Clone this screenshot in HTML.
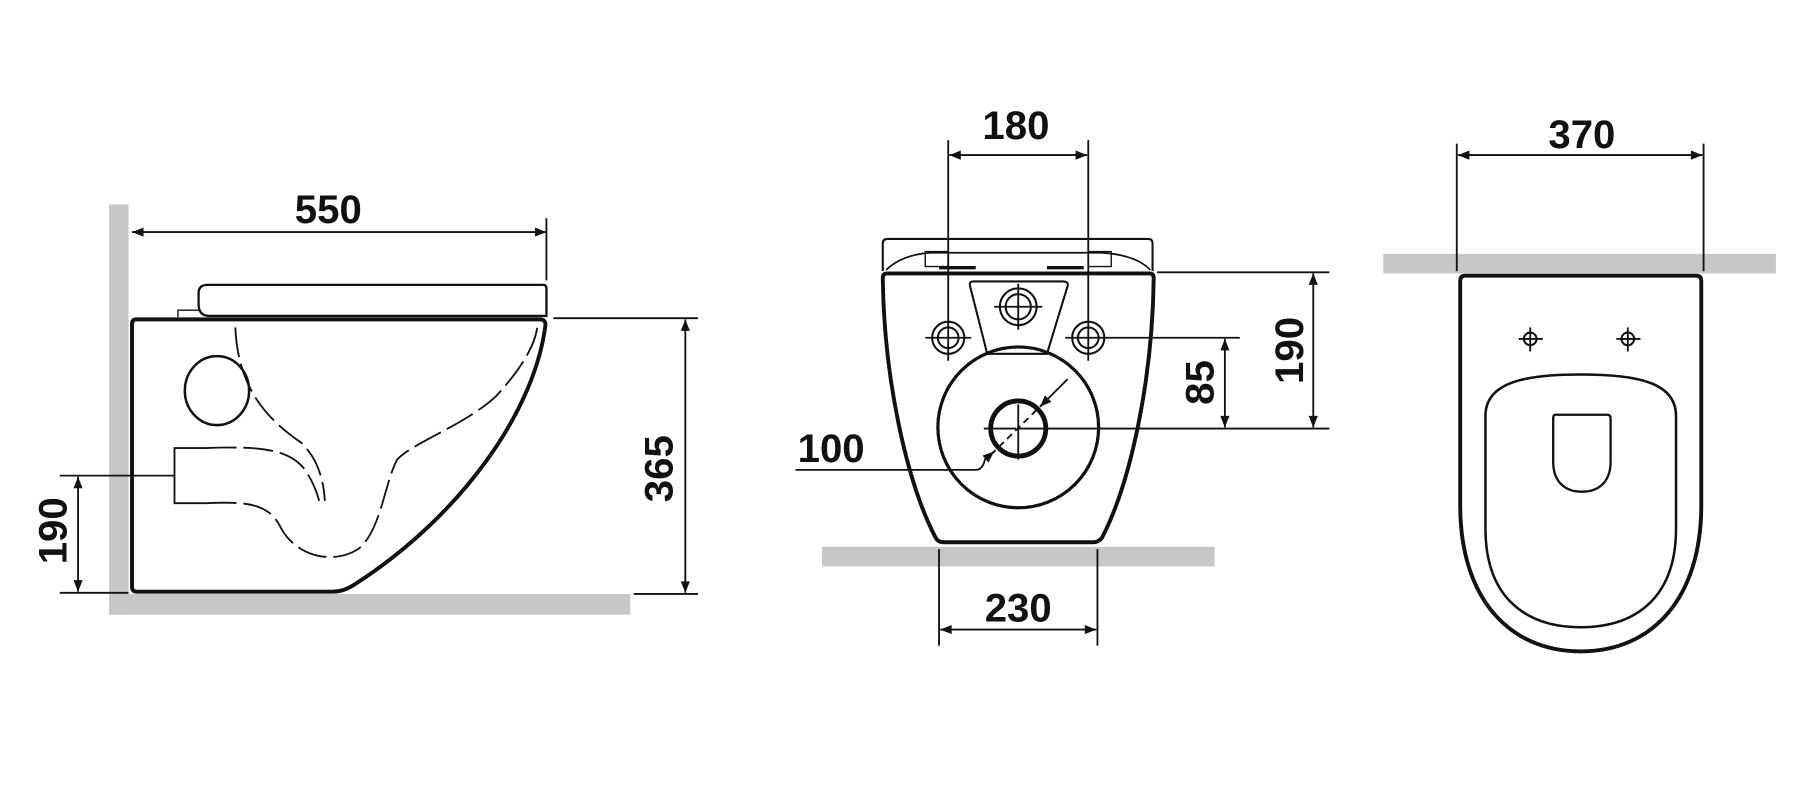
<!DOCTYPE html>
<html><head><meta charset="utf-8"><style>
html,body{margin:0;padding:0;background:#fff;}
svg{display:block;}
text{font-family:"Liberation Sans",Arial,sans-serif;font-weight:bold;font-size:35px;fill:#111;}
</style></head><body>
<svg width="1800" height="795" viewBox="0 0 1568 692" preserveAspectRatio="none" xmlns="http://www.w3.org/2000/svg">
<defs>
<marker id="a" viewBox="0 0 10 10" refX="10" refY="5" markerWidth="14" markerHeight="10" markerUnits="userSpaceOnUse" orient="auto-start-reverse"><path d="M0,1 L10,5 L0,9 Z" fill="#111"/></marker>
</defs>
<g fill="#c8c6c6">
<rect x="95" y="178" width="17" height="357"/>
<rect x="95" y="517" width="454" height="18"/>
<rect x="716" y="476" width="342" height="17"/>
<rect x="1205" y="221" width="342" height="17"/>
</g>
<g fill="none" stroke="#111" stroke-width="1.6">
<!-- LEFT VIEW -->
<line x1="115" y1="202" x2="476" y2="202" marker-start="url(#a)" marker-end="url(#a)"/>
<line x1="476" y1="190" x2="476" y2="244"/>
<line x1="482" y1="277" x2="608" y2="277"/>
<line x1="552" y1="517" x2="608" y2="517"/>
<line x1="597" y1="278" x2="597" y2="516" marker-start="url(#a)" marker-end="url(#a)"/>
<line x1="52" y1="414" x2="152" y2="414"/>
<line x1="52" y1="516" x2="112" y2="516"/>
<line x1="68" y1="415" x2="68" y2="515" marker-start="url(#a)" marker-end="url(#a)"/>
<path d="M180,390 H152 V438 H180"/>
<path d="M155,276 V270 H175" stroke-width="1.2"/>
<path d="M181,248 H473 Q476,248 476,251 V275 H183 Q173,275 173,265 V255 Q173,248 181,248 Z" stroke-width="2"/>
<path d="M119,278 H470 Q476,278 475,284 C465,360 400,450 310,508 Q300,515 290,515 H119 Q115,515 115,511 V282 Q115,278 119,278 Z" stroke-width="3.4"/>
<ellipse cx="189" cy="340" rx="28" ry="30" stroke-width="2.2"/>
<g stroke-dasharray="26,6" stroke-width="1.6">
<path d="M205,285 C207,330 225,360 262,385 C278,400 282,420 283,436"/>
<path d="M180,390 C230,388 252,392 265,408 C272,418 276,428 278,436"/>
<path d="M180,438 C220,436 235,440 245,460 C258,484 290,492 312,478 C332,462 335,420 346,400 C360,385 405,370 432,345 C455,320 466,300 468,285"/>
</g>
<!-- MIDDLE VIEW -->
<line x1="826" y1="122" x2="826" y2="314"/>
<line x1="948" y1="122" x2="948" y2="314"/>
<line x1="827" y1="135" x2="947" y2="135" marker-start="url(#a)" marker-end="url(#a)"/>
<line x1="1008" y1="237" x2="1158" y2="237"/>
<line x1="887" y1="373" x2="1158" y2="373"/>
<line x1="1144" y1="238" x2="1144" y2="372" marker-start="url(#a)" marker-end="url(#a)"/>
<line x1="960" y1="294" x2="1080" y2="294"/>
<line x1="1067" y1="295" x2="1067" y2="372" marker-start="url(#a)" marker-end="url(#a)"/>
<line x1="818" y1="478" x2="818" y2="562"/>
<line x1="956" y1="478" x2="956" y2="562"/>
<line x1="819" y1="548" x2="955" y2="548" marker-start="url(#a)" marker-end="url(#a)"/>
<path d="M769,236 V212 Q769,208 773,208 H1000 Q1004,208 1004,212 V236" stroke-width="1.8"/>
<path d="M772,235 Q785,222 810,220 H960 Q990,222 1002,235" stroke-width="1.5"/>
<rect x="806" y="219" width="20" height="13" stroke-width="1.2"/>
<rect x="948" y="219" width="20" height="13" stroke-width="1.2"/>
<line x1="818" y1="233" x2="850" y2="233" stroke-width="3"/>
<line x1="912" y1="233" x2="944" y2="233" stroke-width="3"/>
<path d="M773,238 H1001 Q1005,238 1005,242 C1004,330 985,420 960,468 Q957,472 952,472 H822 Q817,472 815,468 C790,420 770,330 769,242 Q769,238 773,238 Z" stroke-width="3.4"/>
<path d="M848,245 H926 Q931,245 930,249 L912,308 H860 L845,249 Q844,245 848,245 Z" stroke-width="1.8"/>
<circle cx="887" cy="267" r="11" stroke-width="1.8"/><circle cx="887" cy="267" r="16" stroke-width="1.8"/>
<line x1="866" y1="267" x2="908" y2="267"/><line x1="887" y1="247" x2="887" y2="287"/>
<circle cx="826" cy="294" r="9" stroke-width="1.8"/><circle cx="826" cy="294" r="14" stroke-width="1.8"/>
<line x1="806" y1="294" x2="846" y2="294"/>
<circle cx="948" cy="294" r="9" stroke-width="1.8"/><circle cx="948" cy="294" r="14" stroke-width="1.8"/>
<line x1="928" y1="294" x2="960" y2="294"/>
<circle cx="887" cy="372" r="70" stroke-width="2.8"/>
<circle cx="887" cy="373" r="24" stroke-width="4.2"/>
<line x1="857" y1="373" x2="885" y2="373"/>
<line x1="887" y1="352" x2="887" y2="400"/>
<line x1="863" y1="396" x2="910" y2="350" stroke-dasharray="6,4"/>
<line x1="930" y1="330" x2="906" y2="354" marker-end="url(#a)"/>
<path d="M693,409 H850 Q856,409 858,400 L866,393" marker-end="url(#a)"/>
<!-- RIGHT VIEW -->
<line x1="1269" y1="125" x2="1269" y2="236"/>
<line x1="1484" y1="125" x2="1484" y2="236"/>
<line x1="1270" y1="135" x2="1483" y2="135" marker-start="url(#a)" marker-end="url(#a)"/>
<path d="M1276,240 H1478 Q1482,240 1482,245 V440 C1482,520 1440,567 1377,567 C1314,567 1272,520 1272,440 V245 Q1272,240 1276,240 Z" stroke-width="3.4"/>
<path d="M1294,362 C1294,332 1330,326 1377,326 C1424,326 1460,332 1460,362 V460 C1460,520 1425,546 1377,546 C1329,546 1294,520 1294,460 Z" stroke-width="2.2"/>
<path d="M1355,361 H1400 Q1403,361 1403,364 V402 C1403,418 1394,428 1378,428 C1362,428 1353,418 1353,402 V364 Q1353,361 1355,361 Z" stroke-width="2"/>
<circle cx="1333" cy="295" r="5.5" stroke-width="1.8"/>
<line x1="1323" y1="295" x2="1344" y2="295"/><line x1="1333" y1="285" x2="1333" y2="306"/>
<circle cx="1418" cy="295" r="5.5" stroke-width="1.8"/>
<line x1="1408" y1="295" x2="1429" y2="295"/><line x1="1418" y1="285" x2="1418" y2="306"/>
</g>
<text x="286" y="194" text-anchor="middle">550</text>
<text transform="translate(586,408) rotate(-90)" text-anchor="middle">365</text>
<text transform="translate(58,462) rotate(-90)" text-anchor="middle">190</text>
<text x="885" y="121" text-anchor="middle">180</text>
<text transform="translate(1135,305) rotate(-90)" text-anchor="middle">190</text>
<text transform="translate(1057,333) rotate(-90)" text-anchor="middle">85</text>
<text x="724" y="402" text-anchor="middle">100</text>
<text x="887" y="541" text-anchor="middle">230</text>
<text x="1378" y="129" text-anchor="middle">370</text>
</svg>
</body></html>
